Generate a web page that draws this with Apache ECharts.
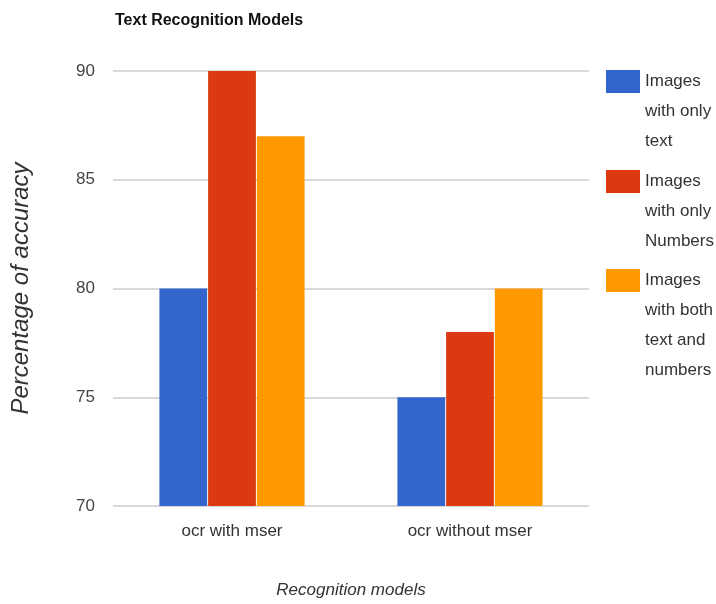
<!DOCTYPE html>
<html>
<head>
<meta charset="utf-8">
<script src="https://cdn.jsdelivr.net/npm/echarts@6/dist/echarts.min.js"></script>
<style>
  html, body { margin: 0; padding: 0; background: #fff; }
  #chart { width: 716px; height: 604px; }
</style>
</head>
<body>
<div id="chart"></div>
<script>
// data
var categories = ['ocr with mser', 'ocr without mser']
var seriesNames = ['Images with only text', 'Images with only Numbers', 'Images with both text and numbers']
var legendLines = [
  ['Images', 'with only', 'text'],
  ['Images', 'with only', 'Numbers'],
  ['Images', 'with both', 'text and', 'numbers']
]
var onlyText = [80, 75]
var onlyNumbers = [90, 78]
var textAndNumbers = [87, 80]
var colors = ['#3366cc', '#dc3912', '#ff9900']

var FONT = '"Liberation Sans", Arial, sans-serif'
var LINE_H = 30

var chart = echarts.init(document.getElementById('chart'))

function bar(name, data) {
  return {
    name: name,
    type: 'bar',
    data: data,
    barGap: '2%',
    barCategoryGap: '39%'
  }
}

// legend icon sits beside the first line of wrapped text, so pad with blank
// lines on top to push the first line to the vertical centre
var iconTops = [70, 170, 269]
var legends = seriesNames.map(function (name, i) {
  var lines = legendLines[i]
  var blanks = lines.length - 1
  var text = new Array(blanks + 1).join('\n') + lines.join('\n')
  var total = blanks + lines.length
  return {
    orient: 'vertical',
    left: 606,
    top: iconTops[i] + 11.5 - total * LINE_H / 2,
    padding: 0,
    itemWidth: 34,
    itemHeight: 23,
    icon: 'rect',
    selectedMode: false,
    data: [name],
    formatter: function () { return text },
    textStyle: { fontFamily: FONT, fontSize: 17, color: '#333', lineHeight: LINE_H }
  }
})

chart.setOption({
  animation: false,
  color: colors,
  title: {
    text: 'Text Recognition Models',
    left: 110,
    top: 8,
    textStyle: { fontFamily: FONT, fontWeight: 'bold', fontSize: 16, color: '#111' }
  },
  grid: { left: 113, right: 127, top: 71, bottom: 98, containLabel: false },
  legend: legends,
  xAxis: {
    type: 'category',
    data: categories,
    name: 'Recognition models',
    nameLocation: 'middle',
    nameGap: 76,
    nameTextStyle: { fontFamily: FONT, fontStyle: 'italic', fontSize: 17, color: '#333' },
    axisLine: { show: false },
    axisTick: { show: false },
    axisLabel: { fontFamily: FONT, fontSize: 17, color: '#333', margin: 17 }
  },
  yAxis: {
    type: 'value',
    min: 70,
    max: 90,
    interval: 5,
    name: 'Percentage of accuracy',
    nameLocation: 'middle',
    nameGap: 80,
    nameTextStyle: { fontFamily: FONT, fontStyle: 'italic', fontSize: 24, color: '#333' },
    axisLine: { show: false },
    axisTick: { show: false },
    axisLabel: { fontFamily: FONT, fontSize: 17, color: '#444', margin: 18 },
    splitLine: { lineStyle: { color: '#d9d9d9', width: 2 } }
  },
  series: [
    bar(seriesNames[0], onlyText),
    bar(seriesNames[1], onlyNumbers),
    bar(seriesNames[2], textAndNumbers)
  ]
})
</script>
</body>
</html>
